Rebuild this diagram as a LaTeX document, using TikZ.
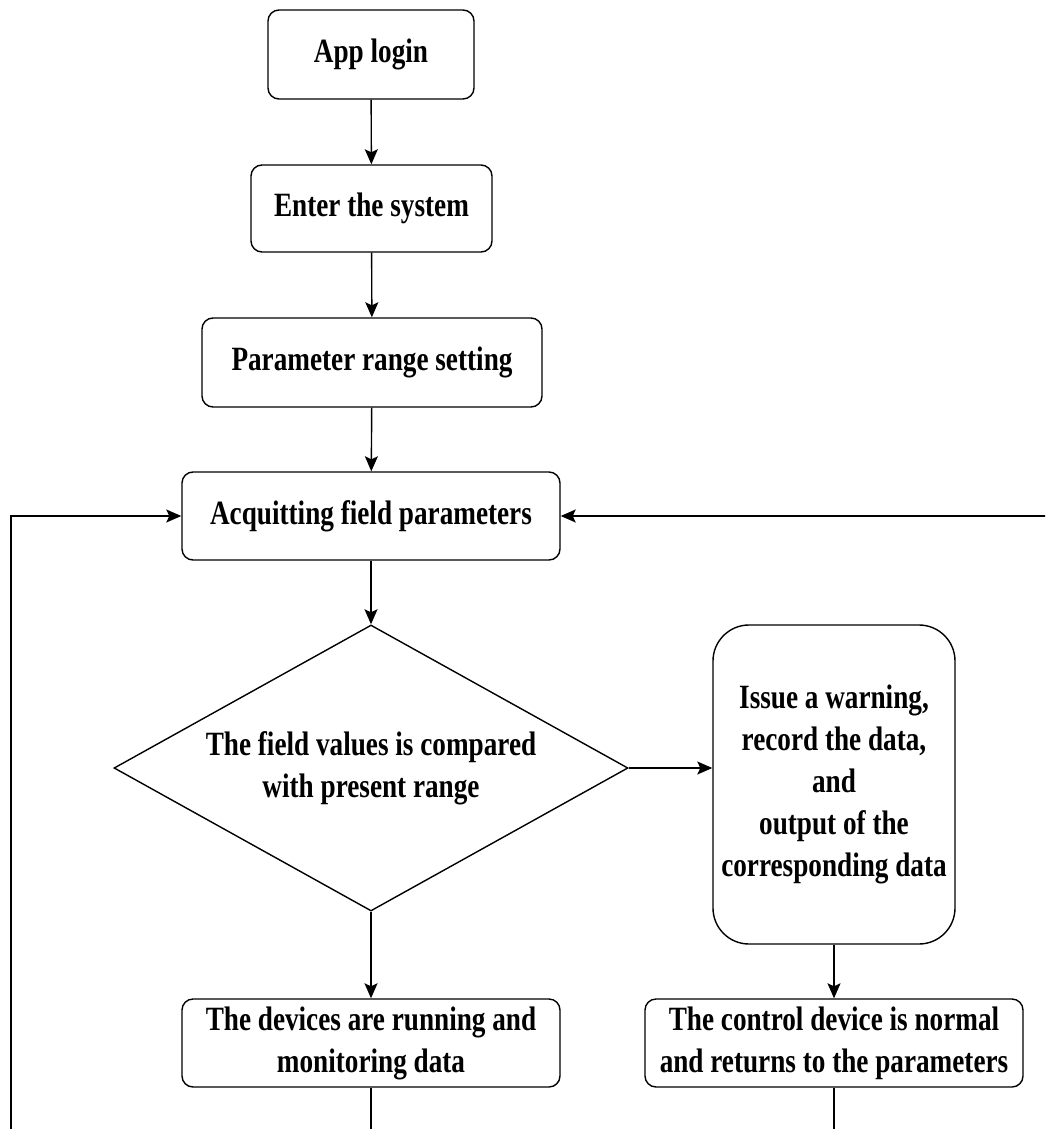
\documentclass[tikz,border=0pt]{standalone}
\usepackage{fontspec}
\setmainfont{Liberation Serif}[FakeStretch=0.8]
\usetikzlibrary{shapes.geometric,arrows.meta}
\begin{document}
\begin{tikzpicture}[x=1pt,y=-1pt,
  every node/.style={font=\fontsize{34}{42}\selectfont\bfseries, align=center, inner sep=0pt},
  box/.style={draw, line width=1.4pt, rounded corners=11pt},
  bigbox/.style={draw, line width=1.4pt, rounded corners=36pt},
  decision/.style={draw, line width=1.4pt, diamond, aspect=1.8, minimum width=514pt, minimum height=286pt},
  conn/.style={line width=1.4pt, -{Stealth[length=15pt,width=13pt,inset=3pt]}},
  plain/.style={line width=1.4pt}]
\clip (0,0) rectangle (1045,1129);
\fill[white] (0,0) rectangle (1045,1129);
\node[box, minimum width=206pt, minimum height=89pt] (app) at (371,54.5) {App login};
\node[box, minimum width=241pt, minimum height=87pt] (enter) at (371.5,208.5) {Enter the system};
\node[box, minimum width=340pt, minimum height=89pt] (param) at (372,362.5) {Parameter range setting};
\node[box, minimum width=378pt, minimum height=88pt] (acq) at (371,516) {Acquitting field parameters};
\node[decision] (cmp) at (371,768) {The field values is compared\\with present range};
\node[bigbox, minimum width=242pt, minimum height=319pt] (warn) at (834,784.5) {Issue a warning,\\record the data,\\and\\output of the\\corresponding data};
\node[box, minimum width=378pt, minimum height=88pt] (dev) at (371,1043) {The devices are running and\\monitoring data};
\node[box, minimum width=378pt, minimum height=88pt] (ctrl) at (834,1043) {The control device is normal\\and returns to the parameters};
\coordinate (lb) at (11,1135);
\coordinate (re) at (1050,516);
\coordinate (devend) at (371,1135);
\coordinate (ctrlend) at (834,1135);
\draw[conn] (app) -- (enter);
\draw[conn] (enter) -- (param);
\draw[conn] (param) -- (acq);
\draw[conn] (acq) -- (cmp.north);
\draw[conn] (cmp.east) -- (warn.west |- cmp.east);
\draw[conn] (cmp.south) -- (dev);
\draw[conn] (warn) -- (ctrl);
\draw[conn] (lb) |- (acq.west);
\draw[conn] (re) -- (acq.east);
\draw[plain] (dev.south) -- (devend);
\draw[plain] (ctrl.south) -- (ctrlend);
\end{tikzpicture}
\end{document}
